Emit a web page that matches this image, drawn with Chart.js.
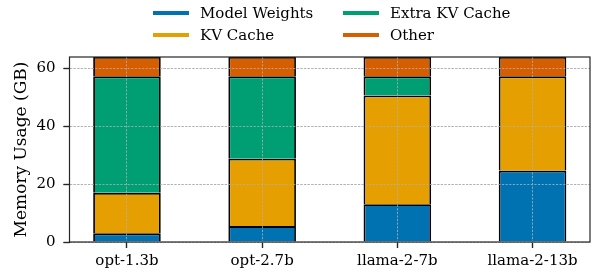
<!DOCTYPE html>
<html>
<head>
<meta charset="utf-8">
<script src="https://cdn.jsdelivr.net/npm/chart.js@4.4.1/dist/chart.umd.min.js"></script>
<style>
  html, body { margin: 0; padding: 0; background: #fff; }
  #wrap { width: 598px; height: 274px; }
</style>
</head>
<body>
<div id="wrap"><canvas id="memChart"></canvas></div>
<script>
// categorie e valori (GB)
const models = ['opt-1.3b', 'opt-2.7b', 'llama-2-7b', 'llama-2-13b'];
const modelWeights = [3.0, 5.5, 13.1, 24.7];
const kvCache = [14.0, 23.3, 37.6, 32.6];
const extraKvCache = [40.3, 28.5, 6.6, 0];
const other = [6.7, 6.7, 6.7, 6.7];
const yTicks = [0, 20, 40, 60];

const FONT = "'DejaVu Serif', serif";
Chart.defaults.font.family = FONT;
Chart.defaults.font.size = 15;
Chart.defaults.color = '#000';

const series = [
  { label: 'Model Weights', data: modelWeights, color: '#0072B2' },
  { label: 'KV Cache', data: kvCache, color: '#E69F00' },
  { label: 'Extra KV Cache', data: extraKvCache, color: '#009E73' },
  { label: 'Other', data: other, color: '#D55E00' }
];

// griglia sopra le barre, cornice completa e legenda a due colonne
const overlay = {
  id: 'overlay',
  afterDatasetsDraw(chart) {
    const { ctx, chartArea: a } = chart;
    chart.scales.x.drawGrid(a);
    chart.scales.y.drawGrid(a);
    ctx.save();
    ctx.strokeStyle = '#262626';
    ctx.lineWidth = 1.2;
    ctx.strokeRect(a.left, a.top, a.right - a.left, a.bottom - a.top);
    ctx.restore();
  },
  afterDraw(chart) {
    const ctx = chart.ctx;
    const colX = [153, 343];
    const rowY = [13, 35];
    ctx.save();
    ctx.font = '15px ' + FONT;
    ctx.textBaseline = 'middle';
    ctx.fillStyle = '#000';
    chart.data.datasets.forEach((ds, i) => {
      const x = colX[Math.floor(i / 2)];
      const y = rowY[i % 2];
      ctx.strokeStyle = ds.backgroundColor;
      ctx.lineWidth = 4;
      ctx.beginPath();
      ctx.moveTo(x, y);
      ctx.lineTo(x + 36, y);
      ctx.stroke();
      ctx.fillText(ds.label, x + 47, y + 1);
    });
    ctx.restore();
  }
};

const gridStyle = {
  color: '#b0b0b0',
  lineWidth: 0.8,
  tickColor: '#262626',
  tickLength: 6,
  tickWidth: 1.2,
  tickBorderDash: []
};

new Chart(document.getElementById('memChart'), {
  type: 'bar',
  data: {
    datasets: series.map(s => ({
      label: s.label,
      data: s.data.map((v, i) => ({ x: i, y: v })),
      backgroundColor: s.color,
      borderColor: '#000',
      borderWidth: 1.8,
      borderSkipped: 'start',
      inflateAmount: 0,
      barPercentage: 0.5,
      categoryPercentage: 1.0
    }))
  },
  options: {
    responsive: true,
    maintainAspectRatio: false,
    animation: false,
    layout: { padding: { top: 57, right: 8, left: 0, bottom: 0 } },
    plugins: { legend: { display: false }, tooltip: { enabled: false } },
    scales: {
      x: {
        type: 'linear',
        stacked: true,
        offset: false,
        min: -0.425,
        max: 3.425,
        afterBuildTicks: s => { s.ticks = models.map((m, i) => ({ value: i })); },
        afterFit: s => { s.height = 32; },
        ticks: {
          padding: 4,
          maxRotation: 0,
          callback: v => models[v]
        },
        grid: { ...gridStyle, offset: false },
        border: { display: false, dash: [2.2, 1.4] }
      },
      y: {
        stacked: true,
        min: 0,
        max: 64,
        afterBuildTicks: s => { s.ticks = yTicks.map(v => ({ value: v })); },
        afterFit: s => { s.width = 69.5; },
        ticks: { padding: 8 },
        grid: gridStyle,
        border: { display: false, dash: [2.2, 1.4] },
        title: {
          display: true,
          text: 'Memory Usage (GB)',
          font: { size: 17 },
          padding: { top: 11, bottom: 0 }
        }
      }
    }
  },
  plugins: [overlay]
});
</script>
</body>
</html>
